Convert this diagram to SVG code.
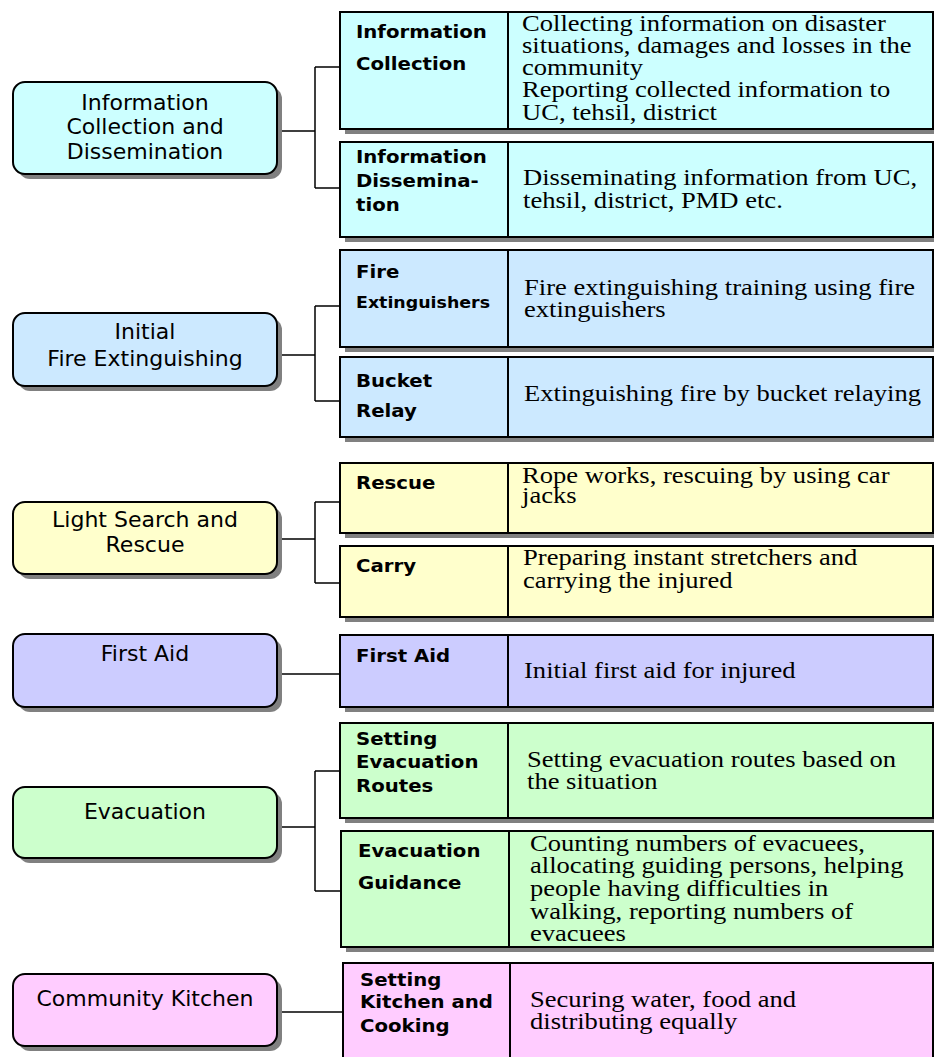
<svg xmlns="http://www.w3.org/2000/svg" width="934" height="1057" viewBox="0 0 934 1057">
<style>
.sh{fill:#808080;stroke:none}
.lb{stroke:#000;stroke-width:2}
.rb{stroke:#000;stroke-width:2}
.cn{fill:none;stroke:#000;stroke-width:1.5}
.lt{font-family:"DejaVu Sans",Verdana,sans-serif;font-size:22px;fill:#000;text-anchor:middle}
.nm{font-family:"DejaVu Sans","Open Sans",sans-serif;font-size:17px;font-weight:bold;fill:#000}
.ds{font-family:"Liberation Serif","Times New Roman",serif;font-size:23px;fill:#000}
.c1{fill:#ccffff}.c2{fill:#cce9ff}.c3{fill:#ffffcc}.c4{fill:#ccccff}.c5{fill:#ccffcc}.c6{fill:#ffccff}
</style>
<rect width="934" height="1057" fill="#fff"/>
<g id="connectors">
<path class="cn" d="M277 131H315M315 67V188M315 67H340M315 188H340"/>
<path class="cn" d="M277 355H315M315 306V401M315 306H340M315 401H340"/>
<path class="cn" d="M277 539H315M315 502V583M315 502H340M315 583H340"/>
<path class="cn" d="M277 674H340"/>
<path class="cn" d="M277 827H315M315 771V891M315 771H340M315 891H341"/>
<path class="cn" d="M277 1012H343"/>
</g>
<g id="left-info">
<rect class="sh" x="18" y="87" width="264" height="92" rx="12"/>
<rect class="lb c1" x="13" y="82" width="264" height="92" rx="12"/>
<text class="lt"><tspan x="145" y="110">Information</tspan><tspan x="145" y="134">Collection and</tspan><tspan x="145" y="159">Dissemination</tspan></text>
</g>
<g id="left-fire">
<rect class="sh" x="18" y="318" width="264" height="73" rx="12"/>
<rect class="lb c2" x="13" y="313" width="264" height="73" rx="12"/>
<text class="lt"><tspan x="145" y="339">Initial</tspan><tspan x="145" y="366">Fire Extinguishing</tspan></text>
</g>
<g id="left-rescue">
<rect class="sh" x="18" y="507" width="264" height="72" rx="12"/>
<rect class="lb c3" x="13" y="502" width="264" height="72" rx="12"/>
<text class="lt"><tspan x="145" y="527">Light Search and</tspan><tspan x="145" y="552">Rescue</tspan></text>
</g>
<g id="left-firstaid">
<rect class="sh" x="18" y="639" width="264" height="73" rx="12"/>
<rect class="lb c4" x="13" y="634" width="264" height="73" rx="12"/>
<text class="lt" x="145" y="661">First Aid</text>
</g>
<g id="left-evac">
<rect class="sh" x="18" y="792" width="264" height="71" rx="12"/>
<rect class="lb c5" x="13" y="787" width="264" height="71" rx="12"/>
<text class="lt" x="145" y="819">Evacuation</text>
</g>
<g id="left-kitchen">
<rect class="sh" x="18" y="979" width="264" height="72" rx="12"/>
<rect class="lb c6" x="13" y="974" width="264" height="72" rx="12"/>
<text class="lt" x="145" y="1006">Community Kitchen</text>
</g>
<g id="info-collection">
<rect class="sh" x="345" y="17" width="594" height="117"/>
<rect class="rb c1" x="340" y="12" width="593" height="117"/>
<line class="rb" x1="508" y1="12" x2="508" y2="129"/>
<text class="nm" transform="matrix(1.16 0 0 1 356 0)"><tspan x="0" y="38">Information</tspan><tspan x="0" y="70">Collection</tspan></text>
<text class="ds" transform="matrix(1.156 0 0 1 522 0)"><tspan x="0" y="31">Collecting information on disaster</tspan><tspan x="0" y="53">situations, damages and losses in the</tspan><tspan x="0" y="75">community</tspan><tspan x="0" y="97">Reporting collected information to</tspan><tspan x="0" y="120">UC, tehsil, district</tspan></text>
</g>
<g id="info-dissemination">
<rect class="sh" x="345" y="147" width="594" height="95"/>
<rect class="rb c1" x="340" y="142" width="593" height="95"/>
<line class="rb" x1="508" y1="142" x2="508" y2="237"/>
<text class="nm" transform="matrix(1.16 0 0 1 356 0)"><tspan x="0" y="163">Information</tspan><tspan x="0" y="187">Dissemina-</tspan><tspan x="0" y="211">tion</tspan></text>
<text class="ds" transform="matrix(1.156 0 0 1 523 0)"><tspan x="0" y="185">Disseminating information from UC,</tspan><tspan x="0" y="208">tehsil, district, PMD etc.</tspan></text>
</g>
<g id="fire-extinguishers">
<rect class="sh" x="345" y="255" width="594" height="97"/>
<rect class="rb c2" x="340" y="250" width="593" height="97"/>
<line class="rb" x1="508" y1="250" x2="508" y2="347"/>
<text class="nm" transform="matrix(1.16 0 0 1 356 0)"><tspan x="0" y="278">Fire</tspan><tspan x="0" y="308" style="font-size:15px">Extinguishers</tspan></text>
<text class="ds" transform="matrix(1.156 0 0 1 524 0)"><tspan x="0" y="295">Fire extinguishing training using fire</tspan><tspan x="0" y="317">extinguishers</tspan></text>
</g>
<g id="bucket-relay">
<rect class="sh" x="345" y="362" width="594" height="80"/>
<rect class="rb c2" x="340" y="357" width="593" height="80"/>
<line class="rb" x1="508" y1="357" x2="508" y2="437"/>
<text class="nm" transform="matrix(1.16 0 0 1 356 0)"><tspan x="0" y="387">Bucket</tspan><tspan x="0" y="417">Relay</tspan></text>
<text class="ds" transform="matrix(1.156 0 0 1 524 0)" x="0" y="401">Extinguishing fire by bucket relaying</text>
</g>
<g id="rescue">
<rect class="sh" x="345" y="468" width="594" height="70"/>
<rect class="rb c3" x="340" y="463" width="593" height="70"/>
<line class="rb" x1="508" y1="463" x2="508" y2="533"/>
<text class="nm" transform="matrix(1.16 0 0 1 356 0)" x="0" y="489">Rescue</text>
<text class="ds" transform="matrix(1.156 0 0 1 522 0)"><tspan x="0" y="483">Rope works, rescuing by using car</tspan><tspan x="0" y="503">jacks</tspan></text>
</g>
<g id="carry">
<rect class="sh" x="345" y="551" width="594" height="71"/>
<rect class="rb c3" x="340" y="546" width="593" height="71"/>
<line class="rb" x1="508" y1="546" x2="508" y2="617"/>
<text class="nm" transform="matrix(1.16 0 0 1 356 0)" x="0" y="572">Carry</text>
<text class="ds" transform="matrix(1.156 0 0 1 523 0)"><tspan x="0" y="565">Preparing instant stretchers and</tspan><tspan x="0" y="588">carrying the injured</tspan></text>
</g>
<g id="first-aid">
<rect class="sh" x="345" y="640" width="594" height="72"/>
<rect class="rb c4" x="340" y="635" width="593" height="72"/>
<line class="rb" x1="508" y1="635" x2="508" y2="707"/>
<text class="nm" transform="matrix(1.16 0 0 1 356 0)" x="0" y="662">First Aid</text>
<text class="ds" transform="matrix(1.156 0 0 1 524 0)" x="0" y="678">Initial first aid for injured</text>
</g>
<g id="evac-routes">
<rect class="sh" x="345" y="728" width="594" height="95"/>
<rect class="rb c5" x="340" y="723" width="593" height="95"/>
<line class="rb" x1="508" y1="723" x2="508" y2="818"/>
<text class="nm" transform="matrix(1.16 0 0 1 356 0)"><tspan x="0" y="745">Setting</tspan><tspan x="0" y="768">Evacuation</tspan><tspan x="0" y="792">Routes</tspan></text>
<text class="ds" transform="matrix(1.156 0 0 1 527 0)"><tspan x="0" y="767">Setting evacuation routes based on</tspan><tspan x="0" y="789">the situation</tspan></text>
</g>
<g id="evac-guidance">
<rect class="sh" x="346" y="836" width="593" height="116"/>
<rect class="rb c5" x="341" y="831" width="592" height="116"/>
<line class="rb" x1="509" y1="831" x2="509" y2="947"/>
<text class="nm" transform="matrix(1.16 0 0 1 358 0)"><tspan x="0" y="857">Evacuation</tspan><tspan x="0" y="889">Guidance</tspan></text>
<text class="ds" transform="matrix(1.156 0 0 1 530 0)"><tspan x="0" y="851">Counting numbers of evacuees,</tspan><tspan x="0" y="873">allocating guiding persons, helping</tspan><tspan x="0" y="896">people having difficulties in</tspan><tspan x="0" y="919">walking, reporting numbers of</tspan><tspan x="0" y="941">evacuees</tspan></text>
</g>
<g id="kitchen">
<rect class="rb c6" x="343" y="963" width="590" height="100"/>
<line class="rb" x1="510" y1="963" x2="510" y2="1063"/>
<text class="nm" transform="matrix(1.16 0 0 1 360 0)"><tspan x="0" y="986">Setting</tspan><tspan x="0" y="1008">Kitchen and</tspan><tspan x="0" y="1032">Cooking</tspan></text>
<text class="ds" transform="matrix(1.156 0 0 1 530 0)"><tspan x="0" y="1007">Securing water, food and</tspan><tspan x="0" y="1029">distributing equally</tspan></text>
</g>
</svg>
